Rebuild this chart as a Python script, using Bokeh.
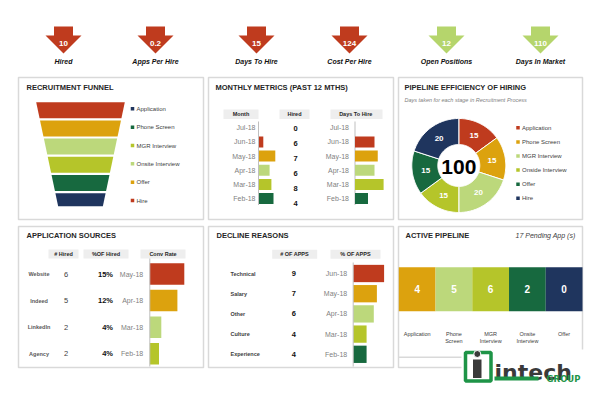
import numpy as np
from bokeh.plotting import figure
from bokeh.models import Range1d
from bokeh.embed import file_html
from bokeh.resources import INLINE
from bokeh.core.properties import value

# ---------------- data ----------------
kpi_labels = ["Hired", "Apps Per Hire", "Days To Hire", "Cost Per Hire", "Open Positions", "Days In Market"]
kpi_values = ["10", "0.2", "15", "124", "12", "110"]
kpi_good = [False, False, False, False, True, True]

funnel_stages = ["Application", "Phone Screen", "MGR Interview", "Onsite Interview", "Offer", "Hire"]

months = ["Jul-18", "Jun-18", "May-18", "Apr-18", "Mar-18", "Feb-18"]
month_hired = [0, 6, 7, 6, 8, 4]
month_bar = [0, 1.6, 5.6, 3.7, 4.3, 5.0]
month_days_to_hire = [0, 15, 17.5, 15, 22, 10]

eff_stages = ["Application", "Phone Screen", "MGR Interview", "Onside Interview", "Offer", "Hire"]
eff_days = [15, 15, 20, 15, 15, 20]

sources = ["Website", "Indeed", "LinkedIn", "Agency"]
source_hired = [6, 5, 2, 2]
source_pct_hired = [15, 12, 4, 4]
source_months = ["May-18", "Apr-18", "Mar-18", "Feb-18"]
source_conv_rate = [15, 12, 5, 4]

reasons = ["Technical", "Salary", "Other", "Culture", "Experience"]
reason_apps = [9, 7, 6, 4, 4]
reason_months = ["Jun-18", "May-18", "Apr-18", "Mar-18", "Feb-18"]
reason_pct = [30, 23, 20, 13, 13]

active_stages = ["Application", "Phone\nScreen", "MGR\nInterview", "Onsite\nInterview", "Offer"]
active_counts = [4, 5, 6, 2, 0]
pending_apps = 17

# ---------------- style ----------------
RED = "#BF3B1E"
ORANGE = "#DCA20E"
LGREEN = "#BCD87B"
YGREEN = "#B5C52A"
DGREEN = "#17693F"
NAVY = "#1F355E"
ARROW_GREEN = "#B5D56C"
BORDER = "#D9D9D9"
HEAD_FILL = "#EEEEEE"
GRAY_TXT = "#7F7F7F"
DARK_TXT = "#262626"
FONT = "Liberation Sans"

p = figure(width=584, height=384, x_range=Range1d(0, 584), y_range=Range1d(384, 0),
           output_backend="svg", toolbar_location=None, x_axis_type=None, y_axis_type=None,
           min_border=0)
p.outline_line_color = None
p.background_fill_color = "white"
p.border_fill_color = "white"


def txt(x, y, texts, size, color=DARK_TXT, style="normal", align="left", font=FONT, baseline="middle"):
    p.text(x=list(x), y=list(y), text=list(texts), text_font=value(font),
           text_font_size=value(f"{size}px"), text_font_style=style, text_color=color,
           text_align=align, text_baseline=baseline)


def hbars(x0, ys, lengths, height, colors):
    p.quad(left=[x0] * len(ys), right=[x0 + l for l in lengths],
           top=[y - height / 2 for y in ys], bottom=[y + height / 2 for y in ys],
           fill_color=colors, line_color=None)


# ---------------- KPI arrows ----------------
kpi_x = [63, 155, 256, 349, 446, 540]
xs, ys = [], []
for cx in kpi_x:
    xs.append([cx - 9.5, cx + 9.5, cx + 9.5, cx + 18, cx, cx - 18, cx - 9.5])
    ys.append([26, 26, 35, 35, 53, 35, 35])
p.patches(xs, ys, fill_color=[ARROW_GREEN if g else RED for g in kpi_good], line_color=None)
txt(kpi_x, [42.5] * 6, kpi_values, 8, color="white", style="bold", align="center")
txt(kpi_x, [60.5] * 6, kpi_labels, 7, color="#111111", style="bold italic", align="center")

# ---------------- panels ----------------
panels = [(18, 203, 77, 219), (208, 393, 77, 219), (398, 582, 77, 219),
          (18, 203, 226, 367), (208, 393, 226, 367), (398, 582, 226, 367)]
p.quad(left=[b[0] for b in panels], right=[b[1] for b in panels],
       top=[b[2] for b in panels], bottom=[b[3] for b in panels],
       fill_color=None, line_color=BORDER, line_width=1.5)

titles = ["RECRUITMENT  FUNNEL", "MONTHLY  METRICS  (PAST 12 MTHS)", "PIPELINE  EFFICIENCY  OF  HIRING",
          "APPLICATION  SOURCES", "DECLINE  REASONS", "ACTIVE  PIPELINE"]
txt([26, 215, 404, 26, 216, 405], [87, 87, 87, 234.5, 234.5, 234.5], titles, 7.5, style="bold")

# ---------------- funnel ----------------
band_colors = [RED, ORANGE, LGREEN, YGREEN, DGREEN, NAVY]
fx, fy = [], []
cx = 80
for i, _ in enumerate(funnel_stages):
    top = 101.7 + i * 18.2
    bot = top + (16 if i < len(funnel_stages) - 1 else 13)
    ht = 44.3 - 0.211 * (top - 101.7)
    hb = 44.3 - 0.211 * (bot - 101.7)
    fx.append([cx - ht, cx + ht, cx + hb, cx - hb])
    fy.append([top, top, bot, bot])
p.patches(fx, fy, fill_color=band_colors, line_color=None)
leg_y = [108.3 + i * 18.35 for i in range(len(funnel_stages))]
p.scatter(x=[132] * 6, y=leg_y, marker="square", size=3.5,
          fill_color=band_colors[::-1], line_color=None)
txt([136] * 6, leg_y, funnel_stages, 6, color="#404040")

# ---------------- monthly metrics ----------------
p.quad(left=[223, 279, 330], right=[258, 309, 382], top=[109] * 3, bottom=[118.5] * 3,
       fill_color=HEAD_FILL, line_color=None)
txt([240.5, 294, 356], [113.8] * 3, ["Month", "Hired", "Days To  Hire"], 5.5, style="bold",
    align="center")
row_colors = [None, RED, ORANGE, LGREEN, YGREEN, DGREEN]
mrow_y = [127.3 + i * 14.15 for i in range(len(months))]
txt([255] * 6, mrow_y, months, 7, color=GRAY_TXT, align="right")
hbars(258, mrow_y[1:], [v * 3 for v in month_bar[1:]], 11, row_colors[1:])
p.segment(x0=[258, 354.5], x1=[258, 354.5], y0=[121, 121], y1=[204.5, 204.5],
          line_color="#BFBFBF", line_width=1)
txt([295] * 6, [128.3 + i * 14.9 for i in range(6)], [str(v) for v in month_hired], 7.5,
    color="#111111", style="bold", align="center")
txt([348.5] * 6, mrow_y, months, 7, color=GRAY_TXT, align="right")
hbars(354.5, mrow_y[1:], [v * 1.3 for v in month_days_to_hire[1:]], 11, row_colors[1:])

# ---------------- donut ----------------
dcx, dcy, r_out, r_in = 458.3, 165, 47, 21
eff_colors = [RED, ORANGE, LGREEN, YGREEN, DGREEN, NAVY]
total = sum(eff_days)
wx, wy, lx, ly = [], [], [], []
start = 0.0
for d in eff_days:
    end = start + 360.0 * d / total
    th = np.radians(np.linspace(start, end, 40))
    outer_x = dcx + r_out * np.sin(th)
    outer_y = dcy - r_out * np.cos(th)
    inner_x = dcx + r_in * np.sin(th[::-1])
    inner_y = dcy - r_in * np.cos(th[::-1])
    wx.append(list(np.concatenate([outer_x, inner_x])))
    wy.append(list(np.concatenate([outer_y, inner_y])))
    mid = np.radians((start + end) / 2)
    lx.append(dcx + 33.5 * np.sin(mid))
    ly.append(dcy - 33.5 * np.cos(mid))
    start = end
p.patches(wx, wy, fill_color=eff_colors, line_color="white", line_width=1)
txt(lx, ly, [str(v) for v in eff_days], 8, color="white", style="bold", align="center")
txt([dcx], [dcy + 1], [str(total)], 21, color="#000000", style="bold", align="center")
txt([404], [99], ["Days taken for each stage in Recruitment Process"], 5.5, color="#808080",
    style="italic")
eleg_y = [127.3 + i * 14.1 for i in range(len(eff_stages))]
p.scatter(x=[517.5] * 6, y=eleg_y, marker="square", size=3.5, fill_color=eff_colors, line_color=None)
txt([521.5] * 6, eleg_y, eff_stages, 6, color="#404040")

# ---------------- application sources ----------------
p.quad(left=[48, 83, 140], right=[78, 128, 185], top=[249] * 3, bottom=[258] * 3,
       fill_color=HEAD_FILL, line_color=None)
txt([63, 105.5, 162.5], [253.5] * 3, ["# Hired", "%OF Hired", "Conv Rate"], 5.5, style="bold",
    align="center")
srow_y = [273.5 + i * 26.6 for i in range(len(sources))]
txt([38.5] * 4, srow_y, sources, 5.5, color="#595959", style="bold", align="center")
txt([65.7] * 4, srow_y, [str(v) for v in source_hired], 7.5, color="#404040", align="center")
txt([112.5] * 4, srow_y, [f"{v}%" for v in source_pct_hired], 7.5, color="#111111",
    style="bold", align="right")
txt([142.7] * 4, srow_y, source_months, 7, color=GRAY_TXT, align="right")
hbars(149.3, srow_y, [v * 2.3 for v in source_conv_rate], 21.5, [RED, ORANGE, LGREEN, YGREEN])
p.segment(x0=[149.3], x1=[149.3], y0=[258], y1=[366], line_color="#BFBFBF", line_width=1)

# ---------------- decline reasons ----------------
p.quad(left=[271.7, 330], right=[316.7, 380], top=[249.3] * 2, bottom=[258.3] * 2,
       fill_color=HEAD_FILL, line_color=None)
txt([294, 355], [253.8] * 2, ["# OF APPS", "% OF APPS"], 5.5, style="bold", align="center")
drow_y = [273 + i * 20.2 for i in range(len(reasons))]
txt([230] * 5, drow_y, reasons, 5.5, color="#404040", style="bold")
txt([293.3] * 5, drow_y, [str(v) for v in reason_apps], 7.5, color="#111111", style="bold",
    align="center")
txt([346.7] * 5, drow_y, reason_months, 7, color=GRAY_TXT, align="right")
hbars(352.7, drow_y, [v * 1.03 for v in reason_pct], 17.3, [RED, ORANGE, LGREEN, YGREEN, DGREEN])
p.segment(x0=[352.7], x1=[352.7], y0=[262], y1=[366], line_color="#BFBFBF", line_width=1)

# ---------------- active pipeline ----------------
txt([575], [234.5], [f"{pending_apps} Pending App (s)"], 7, color="#404040", style="italic",
    align="right")
seg_w = (582 - 398.3) / len(active_stages)
seg_l = [398.3 + i * seg_w for i in range(len(active_stages))]
seg_c = [l + seg_w / 2 for l in seg_l]
p.quad(left=seg_l, right=[l + seg_w for l in seg_l], top=[266.7] * 5, bottom=[310.7] * 5,
       fill_color=[ORANGE, LGREEN, YGREEN, DGREEN, NAVY], line_color=None)
txt(seg_c, [288.5] * 5, [str(v) for v in active_counts], 10, color="white", style="bold",
    align="center")
line1 = [s.split("\n")[0] for s in active_stages]
line2 = [s.split("\n")[1] if "\n" in s else "" for s in active_stages]
txt(seg_c, [333.3] * 5, line1, 5.5, color="#404040", align="center")
txt(seg_c, [340.7] * 5, line2, 5.5, color="#404040", align="center")
p.segment(x0=[398], x1=[582], y0=[356.7], y1=[356.7], line_color=BORDER, line_width=1.5)

# ---------------- logo ----------------
LOGO_GREEN = "#1E9447"
p.quad(left=[461], right=[584], top=[349], bottom=[384], fill_color="white", line_color=None)
p.quad(left=[465], right=[490.5], top=[352], bottom=[380.5], fill_color=None,
       line_color=LOGO_GREEN, line_width=3.5)
p.quad(left=[472.5], right=[481], top=[359], bottom=[377.5], fill_color="#3A3A3A", line_color=None)
p.scatter(x=[476.8], y=[353.5], marker="circle", size=7, fill_color="#3A3A3A", line_color="white",
          line_width=1)
txt([494], [372], ["intech"], 22, color="#3A3A3A", style="bold", font="DejaVu Sans",
    baseline="alphabetic")
p.segment(x0=[494], x1=[538], y0=[378], y1=[378], line_color=LOGO_GREEN, line_width=4)
txt([580], [378], ["GROUP"], 8.5, color=LOGO_GREEN, style="bold", font="DejaVu Sans",
    align="right")

open("out.html", "w").write(file_html(p, INLINE))
